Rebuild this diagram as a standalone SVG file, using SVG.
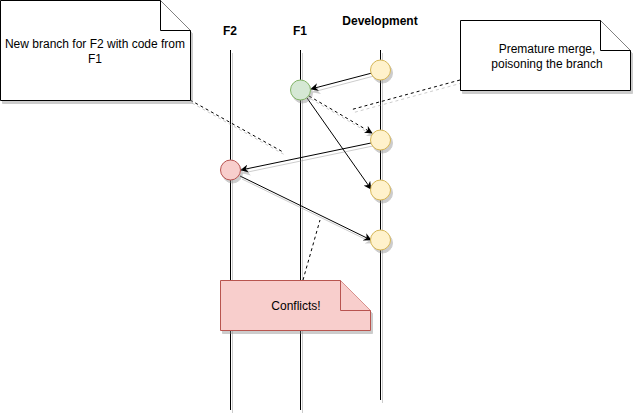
<svg xmlns="http://www.w3.org/2000/svg" width="633" height="415" viewBox="0 0 633 415">
<style>
.lane{stroke:#000;stroke-width:1;fill:none}
.lbl{font-family:"Liberation Sans",Arial,sans-serif;font-size:12px;font-weight:bold;text-anchor:middle;fill:#000}
.txt{font-family:"Liberation Sans",Arial,sans-serif;font-size:12px;text-anchor:middle;fill:#000}
.y{fill:#fff2cc;stroke:#d6b656}
.g{fill:#d5e8d4;stroke:#82b366}
.r{fill:#f8cecc;stroke:#b85450}
.edge{stroke:#000;stroke-width:1;fill:none}
.dash{stroke:#000;stroke-width:1;fill:none;stroke-dasharray:3 3}
.note{fill:#fff;stroke:#000}
</style>
<defs>
<filter id="sh" filterUnits="userSpaceOnUse" x="0" y="0" width="633" height="415">
<feOffset in="SourceAlpha" dx="2" dy="3" result="o"/>
<feFlood flood-color="#808080" flood-opacity="0.4"/>
<feComposite operator="in" in2="o" result="s"/>
<feMerge><feMergeNode in="s"/><feMergeNode in="SourceGraphic"/></feMerge>
</filter>
<marker id="arr" viewBox="0 0 10 10" refX="9" refY="5" markerWidth="8" markerHeight="8" orient="auto" markerUnits="userSpaceOnUse">
<path d="M0,0 L10,5 L0,10 L3,5 Z" fill="#000"/>
</marker>
</defs>
<g id="lanes">
<g id="lane-f2"><line class="lane" x1="230.5" y1="50" x2="230.5" y2="410" filter="url(#sh)"/><text class="lbl" x="230" y="35">F2</text></g>
<g id="lane-f1"><line class="lane" x1="300.5" y1="50" x2="300.5" y2="410" filter="url(#sh)"/><text class="lbl" x="300" y="35">F1</text></g>
<g id="lane-dev"><line class="lane" x1="380.5" y1="50" x2="380.5" y2="400" filter="url(#sh)"/><text class="lbl" x="380" y="25">Development</text></g>
</g>
<g id="connectors">
<line class="edge" x1="372" y1="73" x2="311" y2="89" marker-end="url(#arr)" filter="url(#sh)"/>
<line class="dash" x1="309" y1="96" x2="372" y2="133" marker-end="url(#arr)" filter="url(#sh)"/>
<line class="edge" x1="307" y1="98" x2="371" y2="189" marker-end="url(#arr)"/>
<line class="edge" x1="371" y1="143" x2="241" y2="170" marker-end="url(#arr)" filter="url(#sh)"/>
<line class="edge" x1="240" y1="176" x2="371" y2="240" marker-end="url(#arr)" filter="url(#sh)"/>
<line class="dash" x1="190" y1="100" x2="283" y2="152" filter="url(#sh)"/>
<line class="dash" x1="460" y1="80" x2="350" y2="110" filter="url(#sh)"/>
<line class="dash" x1="303" y1="280" x2="320" y2="220"/>
</g>
<g id="dev1"><circle class="y" cx="380.5" cy="70" r="10" filter="url(#sh)"/></g>
<g id="dev2"><circle class="y" cx="380.5" cy="140" r="10" filter="url(#sh)"/></g>
<g id="dev3"><circle class="y" cx="380.5" cy="190" r="10" filter="url(#sh)"/></g>
<g id="dev4"><circle class="y" cx="380.5" cy="240" r="10" filter="url(#sh)"/></g>
<g id="f1c"><circle class="g" cx="300.5" cy="90" r="10" filter="url(#sh)"/></g>
<g id="f2c"><circle class="r" cx="230.5" cy="170" r="10" filter="url(#sh)"/></g>
<g id="note-branch">
<path class="note" d="M0.5,0.5 H160.5 L190.5,30.5 V100.5 H0.5 Z" filter="url(#sh)"/>
<path class="note" d="M160.5,0.5 V30.5 H190.5" fill="none"/>
<text class="txt" x="95" y="48">New branch for F2 with code from</text>
<text class="txt" x="95" y="63">F1</text>
</g>
<g id="note-merge">
<path class="note" d="M460.5,20.5 H600.5 L630.5,50.5 V90.5 H460.5 Z" filter="url(#sh)"/>
<path class="note" d="M600.5,20.5 V50.5 H630.5" fill="none"/>
<text class="txt" x="547" y="53">Premature merge,</text>
<text class="txt" x="547" y="68">poisoning the branch</text>
</g>
<g id="note-conflicts">
<path class="r" d="M220.5,280.5 H340.5 L370.5,310.5 V330.5 H220.5 Z" filter="url(#sh)"/>
<path class="r" d="M340.5,280.5 V310.5 H370.5" fill="none"/>
<text class="txt" x="296" y="310">Conflicts!</text>
</g>
</svg>
